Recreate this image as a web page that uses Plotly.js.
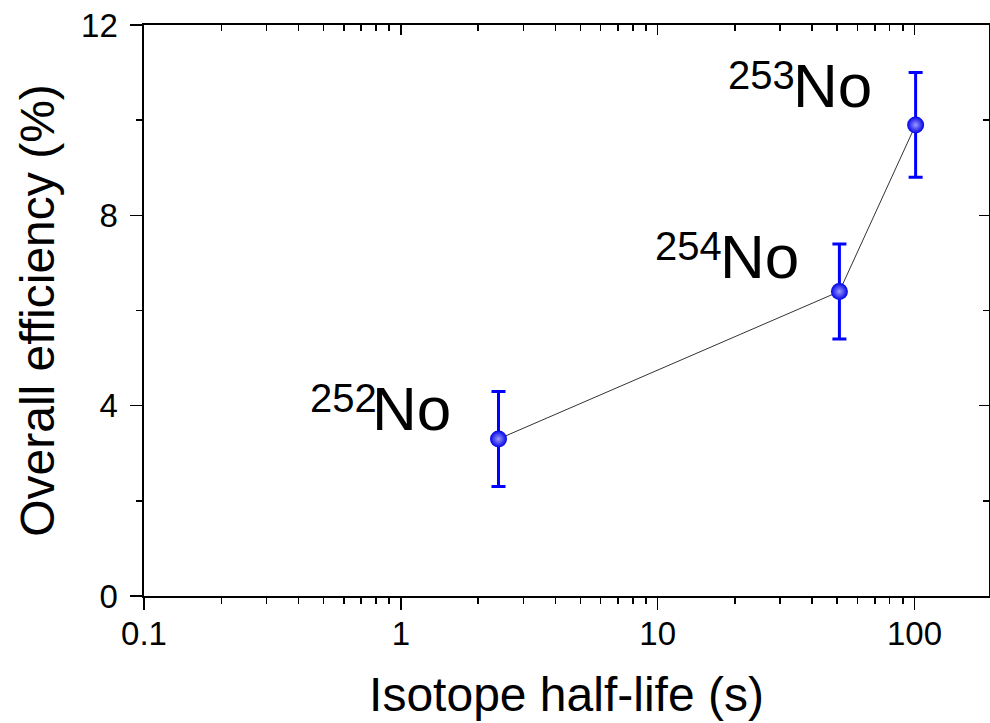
<!DOCTYPE html>
<html>
<head>
<meta charset="utf-8">
<script src="https://cdn.plot.ly/plotly-3.0.1.min.js"></script>
<style>html,body{margin:0;padding:0;background:#fff;}#chart{width:990px;height:723px;}</style>
</head>
<body>
<div id="chart"></div>
<script>
// Data
const massNumbers = ["252", "254", "253"];
const element = "No";
const halfLife = [2.4, 51, 101];          // s
const efficiency = [3.3, 6.4, 9.9];       // %
const efficiencyErr = [1.0, 1.0, 1.1];    // %
const xTickVals = [0.1, 1, 10, 100];
const xTickText = ["0.1", "1", "10", "100"];
const xMinorVals = [0.2,0.3,0.4,0.5,0.6,0.7,0.8,0.9,2,3,4,5,6,7,8,9,20,30,40,50,60,70,80,90,200];
const yTickVals = [0, 4, 8, 12];
const yMinorVals = [2, 6, 10];
// Label placement (paper coordinates)
const symbolX = [0.2675, 0.6793, 0.7657];
const symbolY = [0.3275, 0.5946, 0.8932];
const massX = [0.2781, 0.6864, 0.7728];
const massY = [0.3468, 0.6138, 0.9133];

const FONT = "Arial, 'Liberation Sans', sans-serif";
const xRange = [-1, Math.log10(195)];
const yRange = [0, 12];

const traces = [
  {
    x: halfLife, y: efficiency, type: "scatter", mode: "lines+markers",
    line: {color: "#333333", width: 1},
    marker: {size: 17, color: "#0000e6", gradient: {type: "radial", color: "#9a9aff"}},
    error_y: {type: "data", array: efficiencyErr, visible: true, color: "#0000ff", thickness: 3, width: 7},
    hoverinfo: "x+y", showlegend: false
  },
  {
    x: halfLife, y: efficiency, xaxis: "x2", yaxis: "y2", type: "scatter", mode: "markers",
    marker: {opacity: 0}, hoverinfo: "skip", showlegend: false
  }
];

const axisCommon = {showgrid: false, zeroline: false, showline: true, linecolor: "#000", linewidth: 1.6,
  tickcolor: "#000", tickwidth: 1.6};

const annotations = [];
massNumbers.forEach((m, i) => {
  annotations.push({
    text: element, xref: "paper", yref: "paper", x: symbolX[i], y: symbolY[i],
    xanchor: "left", yanchor: "middle", showarrow: false,
    font: {size: 62, family: FONT, color: "#000"}
  });
  annotations.push({
    text: m, xref: "paper", yref: "paper", x: massX[i], y: massY[i],
    xanchor: "right", yanchor: "middle", showarrow: false,
    font: {size: 40, family: FONT, color: "#000"}
  });
});

const layout = {
  width: 990, height: 723,
  margin: {l: 144, r: 1, t: 25, b: 127},
  paper_bgcolor: "#fff", plot_bgcolor: "#fff",
  font: {family: FONT, color: "#000"},
  showlegend: false,
  xaxis: Object.assign({}, axisCommon, {
    type: "log", range: xRange, tickmode: "array", tickvals: xTickVals, ticktext: xTickText,
    ticks: "outside", ticklen: 12, tickfont: {size: 33, family: FONT}, ticklabelstandoff: -4,
    minor: {tickmode: "array", tickvals: xMinorVals, ticks: "outside", ticklen: 6, tickwidth: 1.6, tickcolor: "#000", showgrid: false},
    title: {text: "Isotope half-life (s)", font: {size: 48, family: FONT}, standoff: 26},
    automargin: false
  }),
  xaxis2: Object.assign({}, axisCommon, {
    type: "log", range: xRange, overlaying: "x", side: "top", tickmode: "array", tickvals: xTickVals,
    ticks: "inside", ticklen: 10, showticklabels: false,
    minor: {tickmode: "array", tickvals: xMinorVals, ticks: "inside", ticklen: 6, tickwidth: 1.6, tickcolor: "#000", showgrid: false}
  }),
  yaxis: Object.assign({}, axisCommon, {
    range: yRange, tickmode: "array", tickvals: yTickVals, ticks: "outside", ticklen: 12,
    tickfont: {size: 33, family: FONT}, ticklabelstandoff: 6,
    minor: {tickmode: "array", tickvals: yMinorVals, ticks: "outside", ticklen: 6, tickwidth: 1.6, tickcolor: "#000", showgrid: false},
    title: {text: "Overall efficiency (%)", font: {size: 48, family: FONT}, standoff: 11},
    automargin: false
  }),
  yaxis2: Object.assign({}, axisCommon, {
    range: yRange, overlaying: "y", side: "right", tickmode: "array", tickvals: yTickVals,
    ticks: "inside", ticklen: 10, showticklabels: false,
    minor: {tickmode: "array", tickvals: yMinorVals, ticks: "inside", ticklen: 6, tickwidth: 1.6, tickcolor: "#000", showgrid: false}
  }),
  annotations: annotations
};

Plotly.newPlot("chart", traces, layout, {displayModeBar: false, staticPlot: true});
</script>
</body>
</html>
